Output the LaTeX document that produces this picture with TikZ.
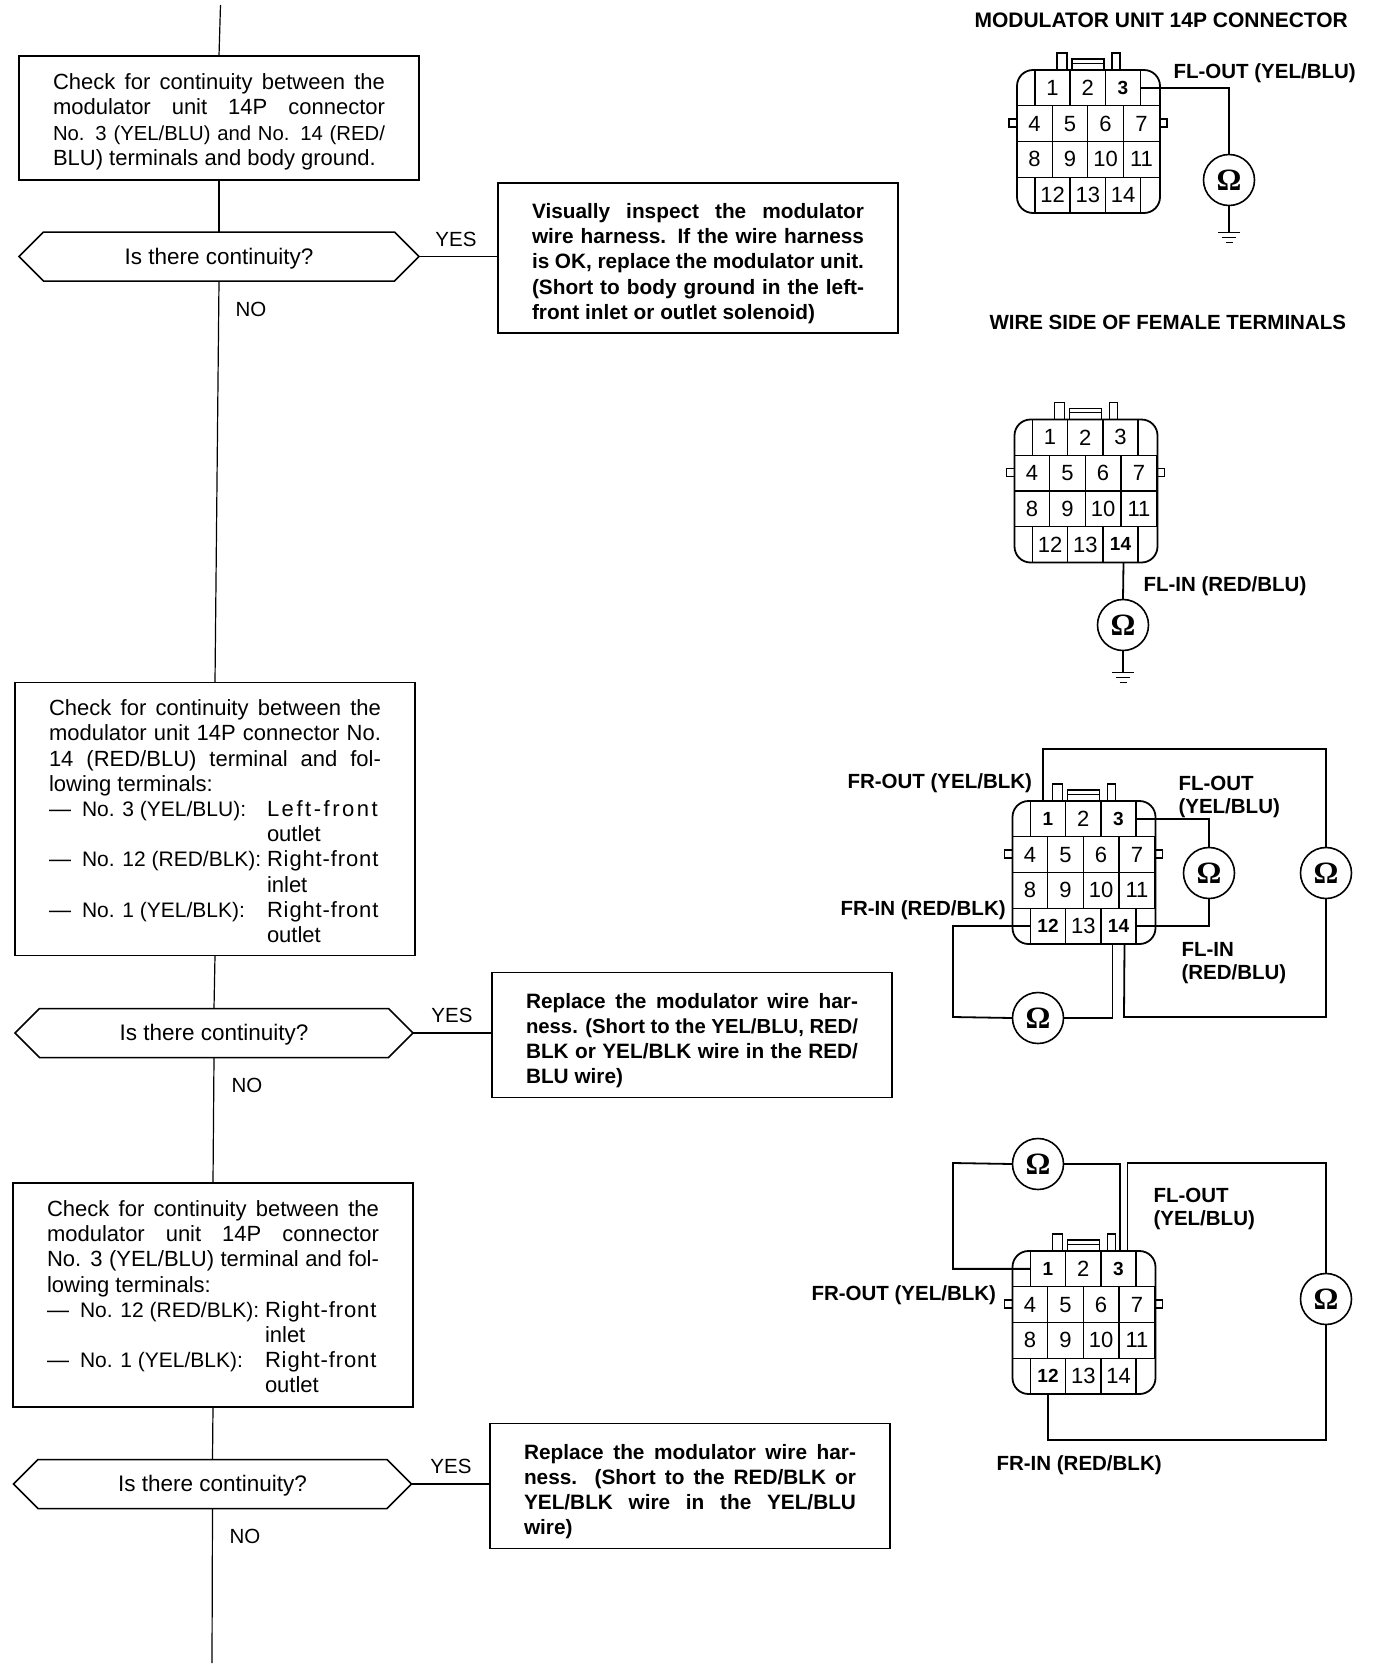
\documentclass[tikz,border=0pt]{standalone}
\usepackage{fontspec}
\setmainfont{Liberation Sans}
\newfontfamily\ohmfont{Liberation Serif}
\usetikzlibrary{positioning}
\usetikzlibrary{shapes.misc}
\tolerance=10000
\hbadness=10000
\hfuzz=3pt
\hyphenpenalty=10000
\newcommand{\stepfont}{\fontsize{22}{25.2}\selectfont}
\newcommand{\fixfont}{\bfseries\fontsize{20.8}{25.2}\selectfont}
\newcommand{\tightfont}{\fontsize{20.3}{25.2}\selectfont}
\newcommand{\termline}[2]{\makebox[33pt][l]{---}\makebox[185pt][l]{\fontsize{21}{25.2}\selectfont #1}#2\\}
\newcommand{\termmore}[1]{\hspace*{218pt}#1}
\newcommand{\leftfront}{{\addfontfeature{LetterSpace=11.5}Left-front}}
\newcommand{\rightfront}{{\addfontfeature{LetterSpace=4}Right-front}}
\newcommand{\textdrop}[1]{\rule{0pt}{#1pt}}
\newcommand{\asktext}{\smash{\raisebox{-7.5pt}{Is there continuity?}}}
\tikzset{
stepbox/.style={rectangle,draw,line width=1.6pt,inner sep=0pt,outer sep=0pt,minimum width=400pt,text width=332pt,align=justify,font=\stepfont},
fixbox/.style={rectangle,draw,line width=1.6pt,inner sep=0pt,outer sep=0pt,minimum width=400pt,text width=332pt,align=justify,font=\fixfont},
askbox/.style={chamfered rectangle,chamfered rectangle xsep=33pt,chamfered rectangle ysep=24.5pt,draw,line width=1.5pt,inner sep=0pt,outer sep=0pt,minimum width=400pt,font=\fontsize{22.5}{25.2}\selectfont},
flow/.style={line width=1.2pt},
flowlab/.style={font=\fontsize{20.5}{25.2}\selectfont},
wirelab/.style={font=\bfseries\fontsize{20.5}{25.2}\selectfont,anchor=west},
titlelab/.style={font=\bfseries\fontsize{21}{25.2}\selectfont,anchor=west},
cell/.style={rectangle,draw,line width=1.2pt,inner sep=0pt,outer sep=0pt,minimum height=35.7pt,font=\fontsize{22}{22}\selectfont},
boldpin/.style={font=\bfseries\fontsize{19}{19}\selectfont},
wire/.style={line width=1.8pt},
ohm/.style={circle,draw,line width=1.6pt,inner sep=0pt,outer sep=0pt,minimum size=51pt,font=\ohmfont\bfseries\fontsize{31}{31}\selectfont},
}
\newcommand{\modconn}[4]{
\begin{scope}[shift={(#2,#3)},#4]
\foreach \n/\cx/\cy in {1/35.5/17.85,2/70.75/17.85,3/106/17.85,12/35.5/124.95,13/70.75/124.95,14/106/124.95}
  \node[cell,minimum width=35pt,cell\n/.try] (#1-\n) at (\cx,\cy) {\n};
\foreach \n/\cx/\cy in {4/17.5/53.55,5/53/53.55,6/88.5/53.55,7/124.5/53.55,8/17.5/89.25,9/53/89.25,10/88.5/89.25,11/124.5/89.25}
  \node[cell,minimum width=35.5pt,cell\n/.try] (#1-\n) at (\cx,\cy) {\n};
\draw[wire,rounded corners=16pt] (0,0) rectangle (143,143);
\draw[wire] (40,0) -- (40,-17) -- (50,-17) -- (50,0);
\draw[wire] (95,0) -- (95,-17) -- (103,-17) -- (103,0);
\draw[wire] (55,0) -- (55,-11) -- (87,-11) -- (87,0);
\draw[line width=1pt] (55,-7) -- (87,-7);
\draw[wire] (0,49) -- (-8,49) -- (-8,57) -- (0,57);
\draw[wire] (143,49) -- (150,49) -- (150,57) -- (143,57);
\end{scope}
}
\newcommand{\earth}[2]{
\draw[wire] (#1.south) -- ++(0,#2) coordinate (#1g);
\draw[wire] ([xshift=-11pt]#1g) -- ([xshift=11pt]#1g);
\draw[wire] ([xshift=-7pt,yshift=-5pt]#1g) -- ([xshift=7pt,yshift=-5pt]#1g);
\draw[wire] ([xshift=-3.5pt,yshift=-10pt]#1g) -- ([xshift=3.5pt,yshift=-10pt]#1g);
}
\begin{document}
\begin{tikzpicture}[x=1pt,y=-1pt]
\useasboundingbox (0,0) rectangle (1392,1666);
\coordinate (start) at (220.5,5);
\coordinate (finish) at (212,1663);

\node[stepbox,minimum height=124pt] (check1) at (219,118) {\textdrop{23.5}Check for continuity between the\linebreak modulator unit 14P connector\linebreak {\tightfont No. 3 (YEL/BLU) and No. 14 (RED/}\linebreak BLU) terminals and body ground.};
\node[askbox] (ask1) at (219,256.5) {\asktext};
\node[fixbox,minimum height=150pt] (fix1) at (698,258) {\textdrop{26}Visually inspect the modulator\linebreak wire harness. If the wire harness\linebreak is OK, replace the modulator unit.\linebreak (Short to body ground in the left-\linebreak front inlet or outlet solenoid)};
\node[flowlab] (yes1) at (456,239) {YES};
\node[flowlab] (no1) at (251,309) {NO};

\node[stepbox,minimum height=273pt] (check2) at (215,819) {\textdrop{20.5}Check for continuity between the\linebreak modulator unit 14P connector No.\linebreak 14 (RED/BLU) terminal and fol-\linebreak lowing terminals:\\
\termline{No. 3 (YEL/BLU):}{\leftfront}
\termmore{outlet}\\
\termline{No. 12 (RED/BLK):}{\rightfront}
\termmore{inlet}\\
\termline{No. 1 (YEL/BLK):}{\rightfront}
\termmore{outlet}};
\node[askbox,minimum width=398pt] (ask2) at (214,1033) {\asktext};
\node[fixbox,minimum height=125pt] (fix2) at (692,1035) {\textdrop{26}Replace the modulator wire har-\linebreak {\tightfont ness. (Short to the YEL/BLU, RED/}\linebreak BLK or YEL/BLK wire in the RED/\linebreak BLU wire)};
\node[flowlab] (yes2) at (452,1015) {YES};
\node[flowlab] (no2) at (247,1085) {NO};

\node[stepbox,minimum height=224pt] (check3) at (213,1295) {\textdrop{19.5}Check for continuity between the\linebreak modulator unit 14P connector\linebreak No. 3 (YEL/BLU) terminal and fol-\linebreak lowing terminals:\\
\termline{No. 12 (RED/BLK):}{\rightfront}
\termmore{inlet}\\
\termline{No. 1 (YEL/BLK):}{\rightfront}
\termmore{outlet}};
\node[askbox,minimum width=398pt] (ask3) at (212.5,1484) {\asktext};
\node[fixbox,minimum height=125pt] (fix3) at (690,1486) {\textdrop{26}Replace the modulator wire har-\linebreak ness. (Short to the RED/BLK or\linebreak YEL/BLK wire in the YEL/BLU\linebreak wire)};
\node[flowlab] (yes3) at (451,1466) {YES};
\node[flowlab] (no3) at (245,1536) {NO};

\draw[flow] (start) -- (check1.north);
\draw[flow] (check1.south) -- (ask1.north);
\draw[flow] (ask1.south) -- (check2.north);
\draw[flow] (check2.south) -- (ask2.north);
\draw[flow] (ask2.south) -- (check3.north);
\draw[flow] (check3.south) -- (ask3.north);
\draw[flow] (ask3.south) -- (finish);
\draw[flow] (ask1.east) -- (ask1.east -| fix1.west);
\draw[flow] (ask2.east) -- (ask2.east -| fix2.west);
\draw[flow] (ask3.east) -- (ask3.east -| fix3.west);

\modconn{conA}{1017}{70}{cell3/.style=boldpin}
\modconn{conB}{1014.5}{419.5}{cell14/.style=boldpin}
\modconn{conC}{1012.5}{801}{cell1/.style=boldpin,cell3/.style=boldpin,cell12/.style=boldpin,cell14/.style=boldpin}
\modconn{conD}{1012.5}{1251}{cell1/.style=boldpin,cell3/.style=boldpin,cell12/.style=boldpin}

\node[titlelab] (titleA) at (971,20) {MODULATOR UNIT 14P CONNECTOR};
\node[wirelab] (titleB) at (986,322) {WIRE SIDE OF FEMALE TERMINALS};
\node[wirelab] (flA) at (1170,73) {FL-OUT (YEL/BLU)};
\node[wirelab] (flB) at (1140,586) {FL-IN (RED/BLU)};
\node[wirelab] (frC) at (844,783) {FR-OUT (YEL/BLK)};
\node[wirelab] (frinC) at (837,910) {FR-IN (RED/BLK)};
\node[wirelab] (floutC) at (1175,783) {FL-OUT};
\node[wirelab] (floutCb) at (1175,808) {(YEL/BLU)};
\node[wirelab] (flinC) at (1178,949) {FL-IN};
\node[wirelab] (flinCb) at (1178,974) {(RED/BLU)};
\node[wirelab] (floutD) at (1150,1195) {FL-OUT};
\node[wirelab] (floutDb) at (1150,1220) {(YEL/BLU)};
\node[wirelab] (frD) at (808,1295) {FR-OUT (YEL/BLK)};
\node[wirelab] (frinD) at (993,1465) {FR-IN (RED/BLK)};

\node[ohm] (ohmA) at (1229,180) {Ω};
\node[ohm] (ohmB) at (1123,625) {Ω};
\node[ohm] (ohmCa) at (1326,873) {Ω};
\node[ohm] (ohmCb) at (1209,873) {Ω};
\node[ohm] (ohmCc) at (1038,1018) {Ω};
\node[ohm] (ohmDa) at (1038,1164) {Ω};
\node[ohm] (ohmDb) at (1326,1299) {Ω};

\draw[wire] (conA-3.east) -| (ohmA.north);
\earth{ohmA}{27}
\draw[wire] ([xshift=3pt]conB-14.south) -- (ohmB.north);
\earth{ohmB}{22}
\draw[wire] ([xshift=-5pt]conC-1.north) |- (ohmCa.north |- 0,749) -- (ohmCa.north);
\draw[wire] (ohmCa.south) |- (1124,1017) -- ([xshift=6pt]conC-14.south);
\draw[wire] (conC-3.east) -| (ohmCb.north);
\draw[wire] (conC-14.east) -| (ohmCb.south);
\draw[wire] (conC-12.west) -| (953,1017) -- (ohmCc.west);
\draw[wire] (ohmCc.east) -| ([xshift=-6pt]conC-14.south);
\draw[wire] (conD-1.west) -| (953,1163) -- (ohmDa.west);
\draw[wire] (ohmDa.east) -| ([xshift=1.5pt]conD-3.north);
\draw[wire] ([xshift=9pt]conD-3.north) |- (ohmDb.north |- 0,1163) -- (ohmDb.north);
\draw[wire] (ohmDb.south) |- (1048,1440) -- (conD-12.south);
\end{tikzpicture}
\end{document}
